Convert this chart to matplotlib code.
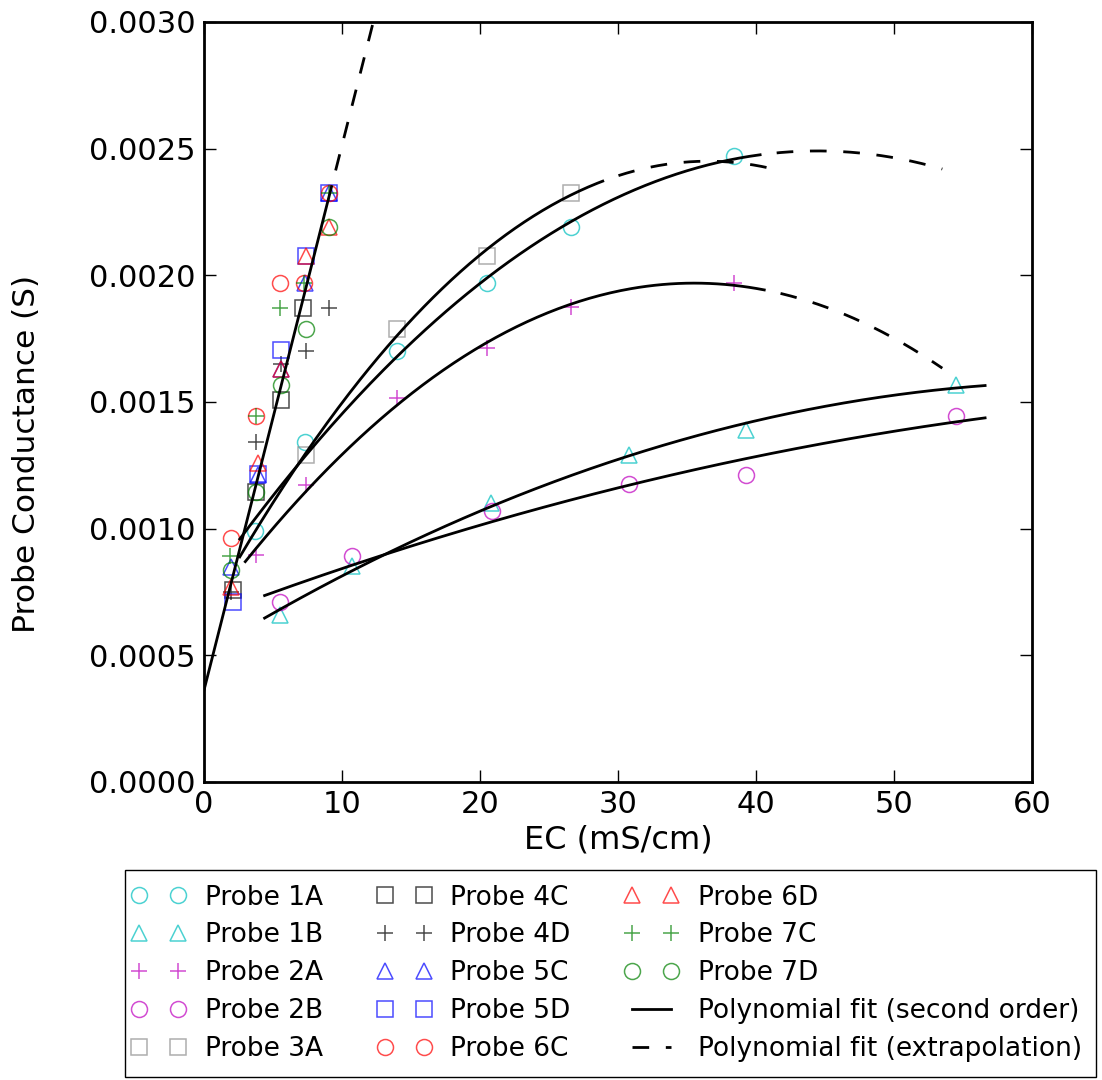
import numpy as np
import matplotlib
matplotlib.use('Agg')
import matplotlib.pyplot as plt
from matplotlib.lines import Line2D
from matplotlib.legend_handler import HandlerLine2D

plt.rcParams['lines.scale_dashes'] = False

# EC (mS/cm) and probe conductance (S) for each probe
p1a_ec = [3.7, 7.3, 14.0, 20.5, 26.6, 38.4]
p1a_g = [0.00099, 0.00134, 0.00170, 0.00197, 0.00219, 0.00247]
p1b_ec = [5.5, 10.7, 20.8, 30.8, 39.25, 54.5]
p1b_g = [0.000659, 0.000854, 0.00110, 0.00129, 0.00139, 0.001565]
p2a_ec = [3.8, 7.4, 14.0, 20.5, 26.6, 38.4]
p2a_g = [0.000896, 0.001172, 0.001516, 0.001712, 0.001874, 0.001968]
p2b_ec = [5.5, 10.7, 20.9, 30.8, 39.25, 54.5]
p2b_g = [0.000712, 0.000893, 0.00107, 0.001175, 0.001212, 0.001446]
p3a_ec = [7.4, 14.0, 20.5, 26.6]
p3a_g = [0.001291, 0.001787, 0.002076, 0.002326]
p4c_ec = [2.1, 3.8, 5.6, 7.2]
p4c_g = [0.000758, 0.001146, 0.001508, 0.00187]
p4d_ec = [2.0, 3.8, 5.6, 7.4, 9.1]
p4d_g = [0.000751, 0.001341, 0.00165, 0.00170, 0.00187]
p5c_ec = [2.0, 3.9, 5.6, 7.3, 9.1]
p5c_g = [0.00085, 0.00121, 0.00163, 0.00197, 0.002324]
p5d_ec = [2.1, 3.9, 5.6, 7.4, 9.1]
p5d_g = [0.000712, 0.001216, 0.001705, 0.002076, 0.002324]
p6c_ec = [2.0, 3.75, 5.5, 7.25, 9.1]
p6c_g = [0.000962, 0.001445, 0.00197, 0.00197, 0.002324]
p6d_ec = [2.0, 3.9, 5.6, 7.4, 9.1]
p6d_g = [0.000771, 0.00126, 0.00163, 0.002076, 0.00219]
p7c_ec = [1.9, 3.75, 5.5, 7.25, 9.1]
p7c_g = [0.000892, 0.001445, 0.00187, 0.00197, 0.002324]
p7d_ec = [2.0, 3.8, 5.6, 7.4, 9.1]
p7d_g = [0.000837, 0.001146, 0.001567, 0.001787, 0.00219]

# fit through the C/D probes (it is a straight line)
cd_fit_ec = [0.0, 9.25]
cd_fit_g = [0.00036, 0.00235]
cd_extrap_ec = [9.25, 12.6]
cd_extrap_g = [0.00235, 0.00307]

probes = [
    ('Probe 1A', p1a_ec, p1a_g, 'o', 'c'),
    ('Probe 1B', p1b_ec, p1b_g, '^', 'c'),
    ('Probe 2A', p2a_ec, p2a_g, '+', 'm'),
    ('Probe 2B', p2b_ec, p2b_g, 'o', 'm'),
    ('Probe 3A', p3a_ec, p3a_g, 's', '0.55'),
    ('Probe 4C', p4c_ec, p4c_g, 's', 'k'),
    ('Probe 4D', p4d_ec, p4d_g, '+', 'k'),
    ('Probe 5C', p5c_ec, p5c_g, '^', 'b'),
    ('Probe 5D', p5d_ec, p5d_g, 's', 'b'),
    ('Probe 6C', p6c_ec, p6c_g, 'o', 'r'),
    ('Probe 6D', p6d_ec, p6d_g, '^', 'r'),
    ('Probe 7C', p7c_ec, p7c_g, '+', 'g'),
    ('Probe 7D', p7d_ec, p7d_g, 'o', 'g'),
]

# second order fits: (x, y, fit start, fit end, extrapolation end)
fits = [
    (p3a_ec, p3a_g, 2.6, 28.9, 41.6),
    (p1a_ec, p1a_g, 2.6, 40.3, 53.5),
    (p2a_ec, p2a_g, 3.0, 40.6, 53.5),
    (p1b_ec, p1b_g, 4.4, 56.6, None),
    (p2b_ec, p2b_g, 4.4, 56.6, None),
]

dash = (12, (12, 12))  # starts with a gap, like the original

fig = plt.figure(figsize=(11.02, 10.8), dpi=100)
ax = fig.add_axes([0.185, 0.276, 0.7515, 0.7037])

handles = []
for label, x, y, m, c in probes:
    h, = ax.plot(x, y, linestyle='none', marker=m, markersize=11.5, mfc='none',
                 mec=c, mew=1.1, alpha=0.7, label=label)
    handles.append(h)

h_fit, = ax.plot(cd_fit_ec, cd_fit_g, 'k-', lw=2)
ax.plot(cd_extrap_ec, cd_extrap_g, 'k', lw=2, linestyle=dash)
for x, y, a, b, e in fits:
    coef = np.polyfit(x, y, 2)
    xs = np.linspace(a, b, 200)
    ax.plot(xs, np.polyval(coef, xs), 'k-', lw=2)
    if e is not None:
        xe = np.linspace(b, e, 200)
        ax.plot(xe, np.polyval(coef, xe), 'k', lw=2, linestyle=dash)

handles.append(h_fit)
handles.append(Line2D([], [], color='k', lw=2, dashes=(12, 12)))
labels = [p[0] for p in probes] + ['Polynomial fit (second order)',
                                   'Polynomial fit (extrapolation)']

ax.set_xlim(0, 60)
ax.set_ylim(0, 0.003)
yt = np.arange(0, 0.00301, 0.0005)
ax.set_yticks(yt)
ax.set_yticklabels(['%.4f' % v for v in yt])
ax.tick_params(direction='in', top=True, right=True, length=8.5, width=1,
               labelsize=22, pad=6)
for s in ax.spines.values():
    s.set_linewidth(2)
ax.set_xlabel('EC (mS/cm)', fontsize=23)
ax.set_ylabel('Probe Conductance (S)', fontsize=22.5)
ax.yaxis.set_label_coords(-0.197, 0.4316)

fig.legend(handles, labels, loc='upper center', bbox_to_anchor=(0.554, 0.1944),
           ncol=3, numpoints=2, fontsize=19, fancybox=False, edgecolor='k',
           framealpha=1, handlelength=1.48, handletextpad=1.0,
           columnspacing=2.35, labelspacing=0.45, borderpad=0.55,
           borderaxespad=0, handler_map={Line2D: HandlerLine2D(marker_pad=0)})

fig.savefig('out.png', dpi=100)
